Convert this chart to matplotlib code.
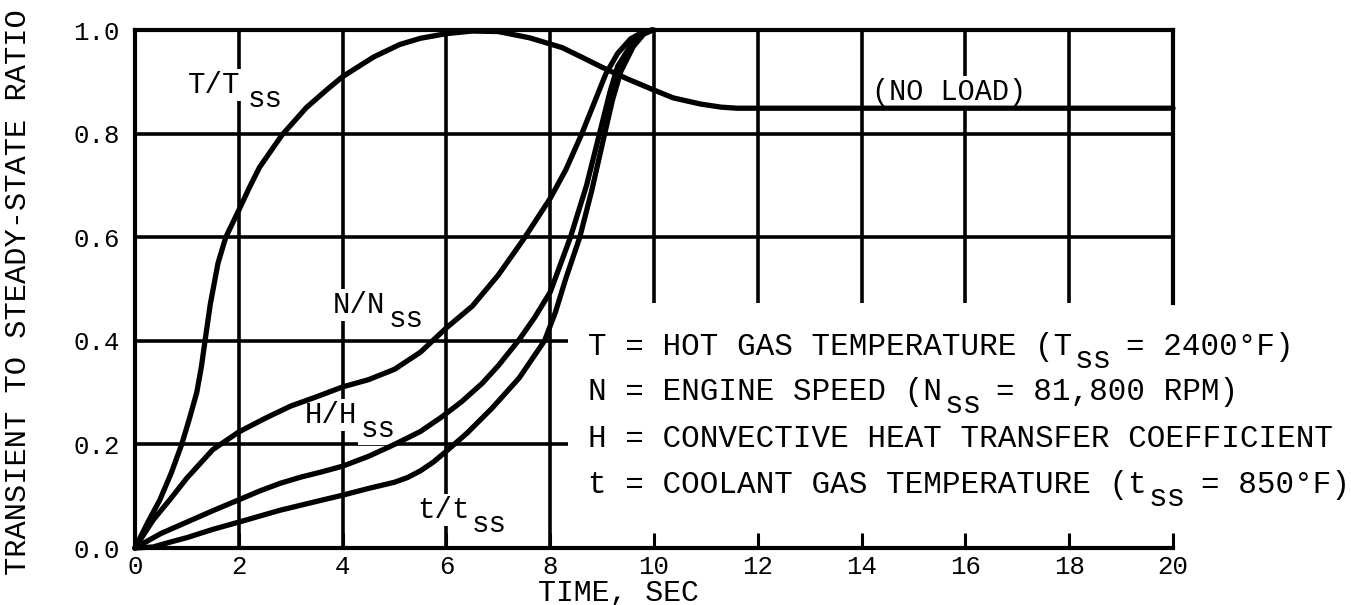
import numpy as np
import matplotlib
matplotlib.use("Agg")
import matplotlib.pyplot as plt

plt.rcParams['font.family'] = ['Liberation Mono', 'DejaVu Sans Mono']

# transient / steady-state ratios vs time (sec)
t_T = [0, 0.25, 0.48, 0.7, 0.9, 1.05, 1.19, 1.28, 1.35, 1.45, 1.6, 1.75, 2.0,
       2.2, 2.4, 2.83, 3.3, 3.7, 4.0, 4.6, 5.1, 5.5, 6.0, 6.5, 7.0, 7.6, 8.23,
       8.6, 9.0, 9.5, 10.0, 10.37, 10.9, 11.3, 11.6, 20.0]
T_ratio = [0, 0.05, 0.093, 0.145, 0.20, 0.25, 0.30, 0.35, 0.40, 0.47, 0.55, 0.60,
           0.652, 0.695, 0.735, 0.797, 0.85, 0.885, 0.91, 0.948, 0.972, 0.984,
           0.993, 0.998, 0.997, 0.985, 0.966, 0.948, 0.928, 0.905, 0.884, 0.869,
           0.857, 0.851, 0.849, 0.849]

t_N = [0, 0.35, 0.67, 1.0, 1.5, 2.0, 2.5, 3.0, 3.5, 4.0, 4.5, 5.0, 5.5, 6.0,
       6.5, 7.0, 7.5, 8.0, 8.3, 8.61, 8.85, 9.07, 9.3, 9.55, 9.8, 10.0]
N_ratio = [0, 0.054, 0.093, 0.135, 0.19, 0.224, 0.25, 0.274, 0.292, 0.311, 0.325,
           0.345, 0.378, 0.425, 0.467, 0.527, 0.598, 0.675, 0.73, 0.80, 0.86,
           0.915, 0.955, 0.983, 0.997, 1.0]

t_H = [0, 0.5, 1.0, 1.5, 2.0, 2.4, 2.8, 3.2, 3.6, 4.0, 4.5, 5.0, 5.5, 5.91, 6.3,
       6.69, 7.0, 7.4, 7.7, 8.0, 8.39, 8.7, 8.95, 9.15, 9.3, 9.55, 9.8, 9.95]
H_ratio = [0, 0.028, 0.05, 0.072, 0.093, 0.11, 0.125, 0.137, 0.147, 0.158, 0.177,
           0.20, 0.225, 0.253, 0.283, 0.318, 0.352, 0.402, 0.445, 0.494, 0.60,
           0.70, 0.80, 0.88, 0.93, 0.97, 0.995, 1.0]

t_t = [0, 0.35, 0.7, 1.0, 1.5, 2.0, 2.8, 3.5, 4.0, 4.5, 5.0, 5.25, 5.5, 5.75,
       6.0, 6.4, 6.88, 7.4, 7.89, 8.1, 8.3, 8.57, 8.8, 9.05, 9.2, 9.36, 9.6,
       9.8, 9.98]
t_ratio = [0, 0.002, 0.012, 0.02, 0.036, 0.05, 0.073, 0.09, 0.102, 0.115, 0.127,
           0.136, 0.149, 0.166, 0.187, 0.222, 0.27, 0.328, 0.40, 0.455, 0.52,
           0.60, 0.69, 0.80, 0.865, 0.92, 0.968, 0.992, 1.0]

x_ticks = [0, 2, 4, 6, 8, 10, 12, 14, 16, 18, 20]
y_ticks = [0.0, 0.2, 0.4, 0.6, 0.8, 1.0]
y_tick_labels = ['0.0', '0.2', '0.4', '0.6', '0.8', '1.0']

legend_lines = [
    ('T = HOT GAS TEMPERATURE (T', 'ss', ' = 2400°F)'),
    ('N = ENGINE SPEED (N', 'ss', ' = 81,800 RPM)'),
    ('H = CONVECTIVE HEAT TRANSFER COEFFICIENT', '', ''),
    ('t = COOLANT GAS TEMPERATURE (t', 'ss', ' = 850°F)'),
]

INK = 'black'
GRID_LW = 2.6
CURVE_LW = 3.8

fig = plt.figure(figsize=(13.51, 6.05), dpi=100)
ax = fig.add_axes([0.0999, 0.0942, 0.7684, 0.8562])
ax.set_xlim(0, 20)
ax.set_ylim(0, 1)

# grid: open area in the lower right holds the key
ax.vlines([2, 4, 6, 8], 0, 1, color=INK, lw=GRID_LW, zorder=1)
ax.vlines([10, 12, 14, 16, 18], 0.473, 1, color=INK, lw=GRID_LW, zorder=1)
ax.hlines([0.6, 0.8], 0, 20, color=INK, lw=GRID_LW, zorder=1)
ax.hlines([0.2, 0.4], 0, 8.34, color=INK, lw=GRID_LW, zorder=1)

for side in ['left', 'right', 'top', 'bottom']:
    ax.spines[side].set_linewidth(3.0)
    ax.spines[side].set_capstyle('projecting')
ax.spines['right'].set_bounds(0.473, 1.0)

ax.set_xticks(x_ticks)
ax.set_xticklabels([str(v) for v in x_ticks])
ax.set_yticks(y_ticks)
ax.set_yticklabels(y_tick_labels)
ax.tick_params(axis='x', direction='in', length=11, width=2.2, pad=5,
               labelsize=18.5)
ax.tick_params(axis='y', length=0, pad=11, labelsize=18.5)

for tx, ty in [(t_T, T_ratio), (t_N, N_ratio), (t_H, H_ratio), (t_t, t_ratio)]:
    ax.plot(tx, ty, color=INK, lw=CURVE_LW, solid_capstyle='round',
            solid_joinstyle='round', clip_on=False, zorder=3)

box = dict(facecolor='white', edgecolor='none', pad=1.5)


def sub_text(x, y, base, sub, rest='', size=21, drop=10, gap=3, bbox=None):
    """Monospaced label with a lowered 'ss' style subscript."""
    adv = 0.6 * size  # Liberation Mono advance width, in em
    style = dict(fontsize=size, va='baseline', ha='left', color=INK,
                 bbox=bbox, zorder=2, textcoords='offset points')
    ax.annotate(base, (x, y), xytext=(0, 0), **style)
    if sub:
        ax.annotate(sub, (x, y), xytext=(adv * len(base) + gap, -drop),
                    **style)
    if rest:
        ax.annotate(rest.lstrip(), (x, y),
                    xytext=(adv * (len(base) + len(sub) + 1), 0), **style)


sub_text(1.02, 0.878, 'T/T', 'ss', size=21, drop=10, gap=5, bbox=box)
sub_text(3.82, 0.454, 'N/N', 'ss', size=21, drop=10, gap=2, bbox=box)
sub_text(3.28, 0.241, 'H/H', 'ss', size=21, drop=10, gap=2, bbox=box)
sub_text(5.43, 0.058, 't/t', 'ss', size=21, drop=10, gap=2, bbox=box)

ax.text(14.2, 0.865, '(NO LOAD)', fontsize=20.6, va='baseline', ha='left',
        color=INK, bbox=box, zorder=2)

key_y = [0.373, 0.286, 0.195, 0.106]
for (base, sub, rest), ky in zip(legend_lines, key_y):
    sub_text(8.72, ky, base, sub, rest, size=22.3, drop=9.4, gap=2.5)

fig.text(0.0133, 0.517, 'TRANSIENT TO STEADY-STATE RATIO', rotation=90,
         fontsize=21.9, ha='center', va='center', color=INK)
fig.text(0.4575, 0.007, 'TIME, SEC', fontsize=21.5, ha='center',
         va='baseline', color=INK)

fig.savefig('out.png', dpi=100, facecolor='white')
